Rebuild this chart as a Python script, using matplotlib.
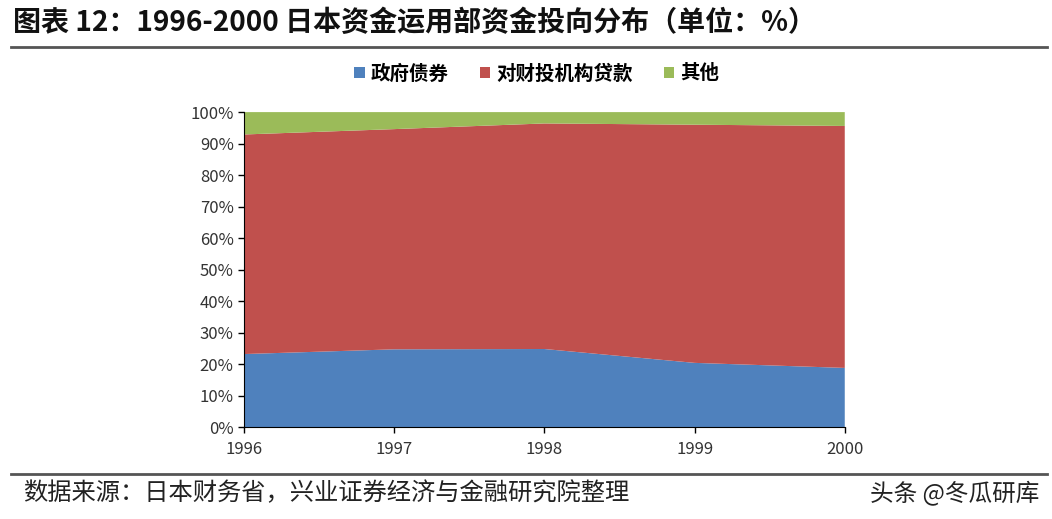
import matplotlib.pyplot as plt
from matplotlib.patches import Patch
from matplotlib.lines import Line2D
from matplotlib.ticker import PercentFormatter

plt.rcParams['font.family'] = ['Noto Sans CJK SC', 'DejaVu Sans']

years = [1996, 1997, 1998, 1999, 2000]
gov_bonds = [23.2, 24.7, 24.8, 20.4, 18.8]
fiscal_loans = [69.7, 69.9, 71.6, 75.6, 76.8]
others = [7.1, 5.4, 3.6, 4.0, 4.4]
series_names = ["政府债券", "对财投机构贷款", "其他"]
colors = ["#4F81BD", "#C0504D", "#9BBB59"]

fig = plt.figure(figsize=(10.52, 5.19), dpi=100)

# title and framing lines
fig.text(0.012, 0.955, "图表 12：1996-2000 日本资金运用部资金投向分布（单位：%）",
         fontsize=20.2, fontweight="bold", va="center", ha="left", color="#111111")
fig.add_artist(Line2D([0.01, 0.995], [0.909, 0.909], color="#555555", lw=2))
fig.add_artist(Line2D([0.01, 0.995], [0.087, 0.087], color="#555555", lw=2))
fig.text(0.022, 0.050, "数据来源：日本财务省，兴业证券经济与金融研究院整理",
         fontsize=17.5, va="center", ha="left", color="#222222")
fig.text(0.988, 0.050, "头条 @冬瓜研库", fontsize=17, va="center", ha="right", color="#222222")

ax = fig.add_axes([0.232, 0.177, 0.571, 0.607])
ax.stackplot(years, gov_bonds, fiscal_loans, others, colors=colors, linewidth=0)
ax.set_xlim(years[0], years[-1])
ax.set_ylim(0, 100)
ax.set_xticks(years)
ax.set_yticks(range(0, 101, 10))
ax.yaxis.set_major_formatter(PercentFormatter(decimals=0))
for s in ["top", "right"]:
    ax.spines[s].set_visible(False)
ax.spines["left"].set_color("black")
ax.spines["bottom"].set_color("black")
ax.tick_params(axis="both", direction="out", length=4, width=1, labelsize=12,
               colors="black", labelcolor="#333333")
ax.tick_params(axis="x", pad=6)

handles = [Patch(facecolor=c, edgecolor="none") for c in colors]
fig.legend(handles, series_names, loc="center", bbox_to_anchor=(0.51, 0.858),
           ncol=3, frameon=False, prop={"size": 14, "weight": "bold"},
           handlelength=0.55, handleheight=0.55,
           handletextpad=0.3, columnspacing=1.6)

fig.savefig("out.png", dpi=100)
